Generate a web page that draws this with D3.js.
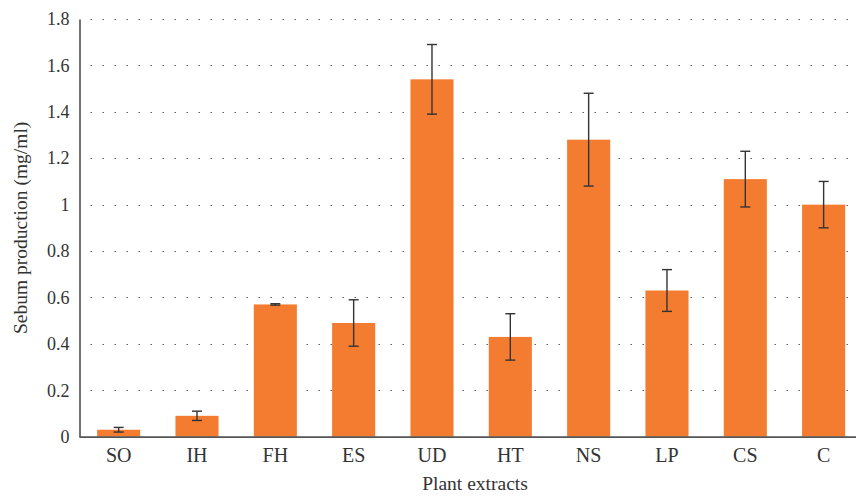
<!DOCTYPE html>
<html>
<head>
<meta charset="utf-8">
<script src="https://cdn.jsdelivr.net/npm/d3@7"></script>
<style>
  html, body { margin: 0; padding: 0; background: #fff; }
  svg { display: block; }
  text { font-family: "Liberation Serif", "DejaVu Serif", serif; fill: #333; }
</style>
</head>
<body>
<svg id="chart" width="856" height="496"></svg>
<script>
// Sebum production per plant extract (mean and error)
const categories = ["SO", "IH", "FH", "ES", "UD", "HT", "NS", "LP", "CS", "C"];
const means      = [0.03, 0.09, 0.57, 0.49, 1.54, 0.43, 1.28, 0.63, 1.11, 1.00];
const errors     = [0.01, 0.02, 0.003, 0.10, 0.15, 0.10, 0.20, 0.09, 0.12, 0.10];
const yTicks     = [0, 0.2, 0.4, 0.6, 0.8, 1, 1.2, 1.4, 1.6, 1.8];

const width = 856, height = 496;
const margin = { left: 79.5, right: -6.8, top: 19, bottom: 59.3 };

const svg = d3.select("#chart");

const x = d3.scaleBand()
  .domain(categories)
  .range([margin.left, width - margin.right])
  .paddingInner(0.45)
  .paddingOuter(0.225);

const y = d3.scaleLinear()
  .domain([0, 1.8])
  .range([height - margin.bottom, margin.top]);

// dotted horizontal gridlines
svg.append("g")
  .selectAll("line")
  .data(yTicks.filter(d => d > 0))
  .join("line")
  .attr("x1", margin.left + 11)
  .attr("x2", width)
  .attr("y1", d => Math.round(y(d)) + 0.5)
  .attr("y2", d => Math.round(y(d)) + 0.5)
  .attr("stroke", "#555")
  .attr("stroke-width", 1.2)
  .attr("stroke-dasharray", "1.4,10.6");

// bars
svg.append("g")
  .selectAll("rect")
  .data(categories)
  .join("rect")
  .attr("x", d => x(d))
  .attr("width", x.bandwidth())
  .attr("y", (d, i) => y(means[i]))
  .attr("height", (d, i) => y(0) - y(means[i]))
  .attr("fill", "#f47c30");

// error bars
const capHalf = 5;
const eb = svg.append("g")
  .attr("stroke", "#333")
  .attr("stroke-width", 1.4)
  .selectAll("g")
  .data(categories)
  .join("g");
eb.append("line")
  .attr("x1", d => x(d) + x.bandwidth() / 2)
  .attr("x2", d => x(d) + x.bandwidth() / 2)
  .attr("y1", (d, i) => y(means[i] - errors[i]))
  .attr("y2", (d, i) => y(means[i] + errors[i]));
eb.append("line")
  .attr("x1", d => x(d) + x.bandwidth() / 2 - capHalf)
  .attr("x2", d => x(d) + x.bandwidth() / 2 + capHalf)
  .attr("y1", (d, i) => y(means[i] + errors[i]))
  .attr("y2", (d, i) => y(means[i] + errors[i]));
eb.append("line")
  .attr("x1", d => x(d) + x.bandwidth() / 2 - capHalf)
  .attr("x2", d => x(d) + x.bandwidth() / 2 + capHalf)
  .attr("y1", (d, i) => y(means[i] - errors[i]))
  .attr("y2", (d, i) => y(means[i] - errors[i]));

// y axis
const yAxis = svg.append("g")
  .attr("transform", `translate(${margin.left},0)`)
  .call(d3.axisLeft(y).tickValues(yTicks).tickSize(0).tickPadding(10).tickFormat(d3.format("~g")));
yAxis.select(".domain").attr("stroke", "#444").attr("stroke-width", 1.5);
yAxis.selectAll("text").style("font-size", "18px").attr("fill", "#333").attr("font-family", null);

// x axis
const xAxis = svg.append("g")
  .attr("transform", `translate(0,${y(0)})`)
  .call(d3.axisBottom(x).tickSize(0).tickPadding(11));
xAxis.select(".domain")
  .attr("d", `M${margin.left},0.5H${width}`)
  .attr("stroke", "#555").attr("stroke-width", 1.8);
xAxis.selectAll("text").style("font-size", "20px").attr("fill", "#333").attr("font-family", null);

// axis titles
svg.append("text")
  .attr("x", 475)
  .attr("y", 490)
  .attr("text-anchor", "middle")
  .style("font-size", "19.5px")
  .text("Plant extracts");

svg.append("text")
  .attr("transform", `translate(27,${(margin.top + y(0)) / 2}) rotate(-90)`)
  .attr("text-anchor", "middle")
  .style("font-size", "19.5px")
  .text("Sebum production (mg/ml)");
</script>
</body>
</html>
